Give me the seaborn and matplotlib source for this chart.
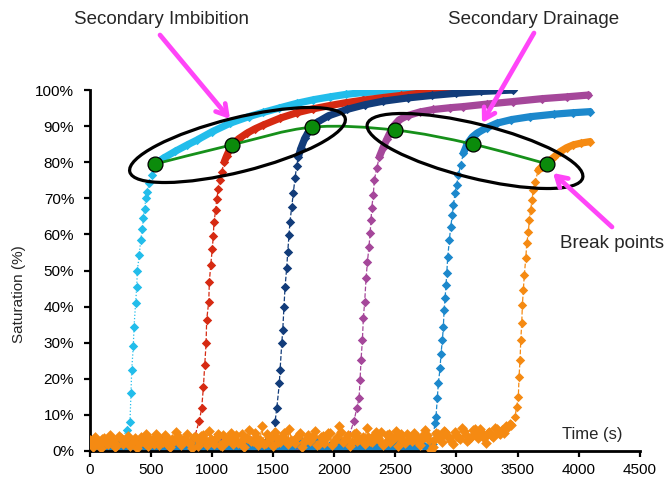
import numpy as np
import pandas as pd
import seaborn as sns
import matplotlib
matplotlib.use("Agg")
import matplotlib.pyplot as plt
from matplotlib.patches import Ellipse, PathPatch
from matplotlib.path import Path

# ---------------------------------------------------------------------------
# Saturation records (time in s, saturation in %)
# ---------------------------------------------------------------------------
# baseline readings before each front arrives
cyan_base_t = np.arange(0, 300, 50)
cyan_base_s = [2.0, 0.6, 1.5, 2.8, 0.9, 2.2]

red_base_t = np.arange(0, 880, 50)
red_base_s = [1.8, 3.0, 0.9, 2.4, 1.3, 3.4, 0.7, 2.1, 1.6, 2.9, 1.0, 2.6, 3.5,
              1.4, 2.2, 3.1, 1.7, 2.8]

navy_base_t = np.arange(0, 1501, 60)
navy_base_s = [0.9, 1.8, 0.5, 2.3, 1.2, 0.7, 2.0, 1.4, 0.4, 1.9, 1.1, 2.5, 0.6,
               1.5, 2.2, 0.8, 1.7, 1.0, 2.6, 0.5, 1.3, 2.1, 0.9, 1.6, 2.4, 1.2]

purple_base_t = np.arange(0, 2101, 60)
purple_base_s = [1.5, 0.3, 2.2, 1.0, 2.9, 0.6, 1.8, 0.2, 2.5, 1.2, 0.5, 2.0,
                 1.4, 0.3, 2.7, 0.9, 1.6, 0.4, 2.3, 1.1, 0.6, 1.9, 2.8, 0.5,
                 1.3, 2.4, 0.8, 1.7, 0.3, 2.1, 1.0, 2.6, 0.7, 1.5, 3.0, 1.9]

blue_base_t = np.concatenate([np.arange(0, 2801, 40), np.arange(20, 2781, 40)])
blue_base_s = [1.2, 0.4, 2.1, 0.8, 1.6, 0.2, 1.9, 1.0, 2.6, 0.5,
               1.4, 0.9, 2.2, 0.3, 1.7, 1.1, 2.8, 0.6, 1.3, 2.0,
               0.7, 1.5, 2.4, 0.4, 1.8, 1.0, 2.9, 0.6, 1.2, 2.3,
               0.8, 1.6, 0.3, 2.5, 1.1, 1.9, 0.5, 2.7, 1.4, 0.9,
               2.1, 0.4, 1.7, 3.0, 0.8, 1.3, 2.2, 0.6, 1.8, 1.0,
               2.6, 0.5, 1.5, 2.0, 0.9, 3.1, 1.2, 0.4, 2.4, 1.6,
               0.7, 2.8, 1.1, 0.3, 1.9, 2.5, 0.6, 1.4, 3.2, 0.8,
               2.0,
               # readings half-way between the ones above
               0.6, 1.5, 0.3, 1.1, 2.0, 0.7, 1.3, 0.4, 1.8, 0.9,
               2.2, 0.5, 1.2, 1.9, 0.6, 2.4, 1.0, 0.3, 1.6, 0.8,
               1.4, 2.1, 0.5, 1.7, 0.9, 2.3, 0.4, 1.5, 0.7, 1.9,
               1.1, 0.3, 2.0, 0.8, 1.6, 0.5, 2.2, 1.0, 0.6, 1.8,
               0.4, 1.3, 2.5, 0.7, 1.5, 0.9, 2.1, 0.5, 1.2, 1.9,
               0.6, 2.3, 1.0, 0.4, 1.7, 0.8, 2.6, 1.3, 0.5, 2.0,
               1.1, 0.3, 1.6, 2.4, 0.7, 1.4, 0.5, 2.1, 1.0, 0.6]

orange_base_t = np.concatenate([np.arange(0, 3451, 30), np.arange(15, 3436, 30)])
orange_base_s = [3.1, 1.2, 2.4, 0.8, 3.5, 1.9, 2.7, 1.1, 4.2, 2.0,
                 3.3, 1.5, 2.8, 0.9, 3.9, 2.2, 1.4, 3.0, 4.6, 1.7,
                 2.5, 3.6, 1.0, 2.9, 4.1, 1.8, 3.4, 2.3, 0.7, 3.8,
                 2.6, 4.4, 1.6, 3.2, 2.0, 4.8, 1.3, 2.7, 3.7, 1.9,
                 4.3, 2.4, 1.1, 3.5, 2.8, 5.0, 1.7, 6.8, 2.2, 4.0,
                 1.4, 3.6, 2.6, 4.9, 1.9, 3.0, 2.3, 4.5, 1.2, 3.3,
                 2.7, 4.1, 1.6, 3.8, 2.1, 5.1, 1.8, 2.9, 6.9, 2.4,
                 3.5, 1.5, 4.6, 2.8, 3.2, 1.9, 4.0, 2.5, 5.2, 3.0,
                 1.7, 4.4, 2.6, 3.7, 1.4, 4.8, 2.2, 3.4, 2.9, 4.1,
                 1.8, 3.6, 4.3, 0.4, 3.1, 4.7, 2.4, 5.3, 3.8, 2.0,
                 4.5, 3.3, 5.6, 2.7, 4.0, 6.1, 3.5, 4.9, 2.3, 5.4,
                 3.9, 6.0, 4.6, 5.1, 6.6, 7.2,
                 # readings half-way between the ones above
                 2.6, 4.0, 1.8, 3.3, 2.1, 4.5, 3.0, 1.6, 3.7, 2.9,
                 4.2, 2.3, 3.6, 1.9, 2.8, 4.7, 3.2, 2.0, 3.9, 2.5,
                 4.4, 1.7, 3.4, 5.2, 2.6, 3.1, 4.6, 2.2, 3.8, 1.5,
                 4.1, 3.0, 5.5, 2.4, 3.6, 1.8, 4.3, 2.9, 5.0, 3.3,
                 2.1, 4.7, 3.5, 5.8, 2.7, 4.0, 3.1, 1.9, 4.8, 3.6,
                 5.3, 2.5, 4.2, 3.0, 6.2, 2.8, 3.9, 5.0, 2.4, 4.4,
                 3.2, 5.6, 2.0, 4.1, 3.5, 4.9, 2.7, 3.8, 5.4, 3.0,
                 4.3, 2.6, 5.1, 3.4, 4.0, 6.3, 2.9, 4.5, 3.6, 5.2,
                 2.3, 4.8, 3.1, 5.5, 3.9, 2.7, 4.6, 3.3, 5.0, 2.5,
                 4.2, 5.8, 3.0, 1.2, 4.9, 3.7, 5.6, 4.1, 2.8, 5.3,
                 3.9, 6.4, 4.4, 3.2, 5.7, 4.8, 6.0, 3.6, 5.1, 4.3,
                 6.5, 5.0, 5.9, 6.8, 7.5]

# steep rise of each front
cyan_rise_t = [304, 331, 339, 345, 358, 364, 377, 386, 391, 407, 418, 432, 440,
               451, 460, 473, 489, 508]
cyan_rise_s = [5.8, 8.1, 16.0, 22.4, 29.0, 34.4, 41.0, 45.5, 50.0, 54.3, 58.4,
               61.5, 64.5, 67.0, 70.0, 71.8, 74.2, 76.5]

red_rise_t = [898, 917, 931, 942, 953, 958, 975, 980, 991, 1004, 1012, 1018,
              1032, 1040, 1053, 1067, 1081]
red_rise_s = [8.4, 11.8, 17.6, 23.8, 29.8, 36.3, 41.4, 46.9, 51.5, 56.0, 59.6,
              63.5, 66.8, 69.8, 72.5, 75.0, 77.4]

navy_rise_t = [1517, 1531, 1552, 1558, 1572, 1580, 1590, 1599, 1612, 1621,
               1631, 1639, 1653, 1666, 1680, 1694]
navy_rise_s = [8.1, 11.8, 18.7, 22.4, 29.8, 33.5, 40.0, 45.5, 50.6, 55.2, 59.8,
               63.5, 67.5, 71.4, 75.5, 79.0]

purple_rise_t = [2163, 2185, 2204, 2212, 2220, 2231, 2239, 2250, 2261, 2272,
                 2285, 2294, 2302, 2307, 2320, 2329, 2348]
purple_rise_s = [8.4, 11.8, 14.6, 19.7, 25.2, 30.7, 36.8, 41.4, 47.8, 52.3,
                 56.6, 60.3, 64.0, 67.2, 70.9, 75.1, 78.3]

blue_rise_t = [2825, 2833, 2844, 2852, 2866, 2874, 2885, 2893, 2899, 2907,
               2915, 2921, 2929, 2942, 2953, 2967, 2975, 2989, 3002, 3016, 3035]
blue_rise_s = [7.7, 9.5, 14.6, 18.7, 22.9, 27.0, 30.7, 34.4, 39.0, 42.3, 46.0,
               49.2, 53.8, 58.4, 62.1, 65.4, 68.1, 71.4, 73.7, 76.5, 79.2]

orange_rise_t = [3479, 3493, 3506, 3512, 3520, 3526, 3534, 3539, 3547, 3555,
                 3567, 3575, 3588, 3596, 3608, 3616, 3629, 3643]
orange_rise_s = [9.5, 12.3, 15.0, 20.6, 25.2, 30.7, 35.4, 40.4, 44.6, 48.8,
                 53.4, 57.5, 60.7, 64.0, 66.8, 69.5, 72.3, 74.6]

# slow approach towards full saturation
cyan_top_t = [536, 570, 604, 700, 800, 877, 1000, 1149, 1300, 1421, 1550, 1694,
              1830, 1966, 2100, 2239, 2400, 2580, 2757]
cyan_top_s = [79.5, 80.3, 81.1, 83.0, 84.8, 86.1, 88.4, 90.8, 92.6, 93.8, 95.0,
              96.3, 97.3, 98.1, 98.8, 99.3, 99.6, 99.8, 100.0]

red_top_t = [1102, 1122, 1163, 1220, 1285, 1350, 1421, 1558, 1694, 1830, 1966,
             2100, 2239, 2400, 2550, 2700, 2850, 3029]
red_top_s = [80.1, 81.8, 84.8, 86.5, 88.0, 89.2, 90.3, 92.2, 93.7, 94.8, 95.7,
             96.5, 97.2, 97.9, 98.5, 99.1, 99.6, 100.0]

navy_top_t = [1707, 1730, 1760, 1790, 1817, 1858, 1950, 2103, 2250, 2400, 2600,
              2800, 3000, 3200, 3465]
navy_top_s = [81.5, 84.0, 86.6, 88.4, 89.7, 91.0, 92.8, 94.6, 95.9, 96.9, 97.8,
              98.5, 99.1, 99.6, 100.0]

purple_top_t = [2370, 2400, 2430, 2457, 2490, 2530, 2600, 2700, 2811, 2950,
                3057, 3250, 3465, 3700, 3900, 4079]
purple_top_s = [81.5, 84.0, 86.3, 88.2, 90.2, 91.7, 92.9, 93.9, 94.6, 95.1,
                95.4, 96.1, 96.8, 97.6, 98.1, 98.6]

blue_top_t = [3057, 3090, 3130, 3166, 3250, 3330, 3450, 3602, 3800, 3950, 4092]
blue_top_s = [82.5, 85.2, 87.0, 88.0, 89.6, 90.8, 91.8, 92.6, 93.3, 93.7, 94.0]

orange_top_t = [3670, 3700, 3743, 3800, 3847, 3900, 3956, 4020, 4092]
orange_top_s = [77.8, 78.8, 79.8, 81.5, 82.9, 84.0, 84.8, 85.3, 85.7]

# break points between primary and secondary displacement
break_t = [536, 1163, 1817, 2498, 3133, 3743]
break_s = [79.5, 84.8, 89.7, 88.9, 85.0, 79.5]

x_ticks = [0, 500, 1000, 1500, 2000, 2500, 3000, 3500, 4000, 4500]
y_ticks = [0, 10, 20, 30, 40, 50, 60, 70, 80, 90, 100]

# ---------------------------------------------------------------------------
sns.set_style("ticks")
plt.rcParams["font.family"] = ["Liberation Sans", "DejaVu Sans"]

W, H = 667, 482
fig = plt.figure(figsize=(W / 100, H / 100), dpi=100)
ax = fig.add_axes([89.5 / W, 31 / H, 550.4 / W, 361 / H])

series = [
    ("#22BDEB", ":", cyan_base_t, cyan_base_s, cyan_rise_t, cyan_rise_s, cyan_top_t, cyan_top_s),
    ("#D62A12", "--", red_base_t, red_base_s, red_rise_t, red_rise_s, red_top_t, red_top_s),
    ("#123C7A", "--", navy_base_t, navy_base_s, navy_rise_t, navy_rise_s, navy_top_t, navy_top_s),
    ("#A5479A", "--", purple_base_t, purple_base_s, purple_rise_t, purple_rise_s, purple_top_t, purple_top_s),
    ("#1C88CC", "--", blue_base_t, blue_base_s, blue_rise_t, blue_rise_s, blue_top_t, blue_top_s),
    ("#F58A12", "--", orange_base_t, orange_base_s, orange_rise_t, orange_rise_s, orange_top_t, orange_top_s),
]

for i, (col, ls, bt, bs, rt, rs, tt, ts) in enumerate(series):
    z = 2 + i * 0.1
    base = pd.DataFrame({"t": bt, "s": bs}).sort_values("t")
    df = pd.concat([base, pd.DataFrame({"t": rt, "s": rs}),
                    pd.DataFrame({"t": tt, "s": ts})], ignore_index=True)
    top = pd.DataFrame({"t": tt, "s": ts})
    sns.lineplot(data=df, x="t", y="s", sort=False, estimator=None, color=col,
                 lw=0.9, linestyle=ls, ax=ax, zorder=z)
    sns.lineplot(data=top, x="t", y="s", sort=False, estimator=None, color=col,
                 lw=5.2, solid_capstyle="round", ax=ax, zorder=z)
    sns.scatterplot(data=base, x="t", y="s", marker="D", s=30, color=col,
                    linewidth=0, ax=ax, zorder=z + 0.05)
    sns.scatterplot(data=df.iloc[len(base):], x="t", y="s", marker="D", s=23,
                    color=col, linewidth=0, ax=ax, zorder=z + 0.05)

# smoothed connector through the break points (Catmull-Rom as cubic Beziers)
pts = np.column_stack([break_t, break_s]).astype(float)
ext = np.vstack([pts[0], pts, pts[-1]])
verts, codes = [tuple(pts[0])], [Path.MOVETO]
for k in range(len(pts) - 1):
    p0, p1, p2, p3 = ext[k], ext[k + 1], ext[k + 2], ext[k + 3]
    verts += [tuple(p1 + (p2 - p0) / 6), tuple(p2 - (p3 - p1) / 6), tuple(p2)]
    codes += [Path.CURVE4] * 3
ax.add_patch(PathPatch(Path(verts, codes), fill=False, ec="#16901A", lw=2.0,
                       zorder=5))
sns.scatterplot(x=break_t, y=break_s, marker="o", s=115, color="#0B8B0B",
                edgecolor="black", linewidth=0.9, ax=ax, zorder=5.1)

ax.set_xlim(0, 4500)
ax.set_ylim(0, 100)
ax.set_xticks(x_ticks)
ax.set_yticks(y_ticks)
ax.set_yticklabels([f"{v}%" for v in y_ticks])
ax.tick_params(axis="both", direction="out", length=4, width=1.6,
               labelsize=11, colors="black")
ax.tick_params(axis="y", pad=7)
ax.tick_params(axis="x", pad=5)
for side in ("top", "right"):
    ax.spines[side].set_visible(False)
for side in ("left", "bottom"):
    ax.spines[side].set_linewidth(2.0)
    ax.spines[side].set_color("black")
ax.set_xlabel("")
ax.set_ylabel("Saturation (%)", fontsize=11)
ax.yaxis.set_label_coords(-0.115, 0.435)
ax.text(3863, 4.7, "Time (s)", fontsize=12, ha="left", va="center", zorder=6)

# grouping ellipses (drawn in figure inches)
for cx, cy, ang in [(237.5, 145, 14), (475, 151, -14)]:
    ax.add_patch(Ellipse((cx / 100, (H - cy) / 100), 2.22, 0.54, angle=ang,
                         transform=fig.dpi_scale_trans, fill=False,
                         ec="black", lw=2.3, zorder=7, clip_on=False))

pink = "#FF45F8"
arrow_kw = dict(arrowstyle="->,head_length=0.75,head_width=0.45", lw=3.4,
                color=pink, shrinkA=0, shrinkB=0)
for (x0, y0), (x1, y1) in [((160, 35), (230, 119)),
                           ((534, 33), (482, 123)),
                           ((612, 227), (553, 173))]:
    ax.annotate("", xy=(x1, H - y1), xycoords="figure pixels",
                xytext=(x0, H - y0), textcoords="figure pixels",
                arrowprops=arrow_kw, zorder=8)

fig.text(162 / W, 1 - 20 / H, "Secondary Imbibition", fontsize=13.5,
         ha="center", va="center")
fig.text(534 / W, 1 - 20 / H, "Secondary Drainage", fontsize=13.5,
         ha="center", va="center")
fig.text(560 / W, 1 - 244 / H, "Break points", fontsize=13.5,
         ha="left", va="center")

fig.savefig("out.png", dpi=100)
